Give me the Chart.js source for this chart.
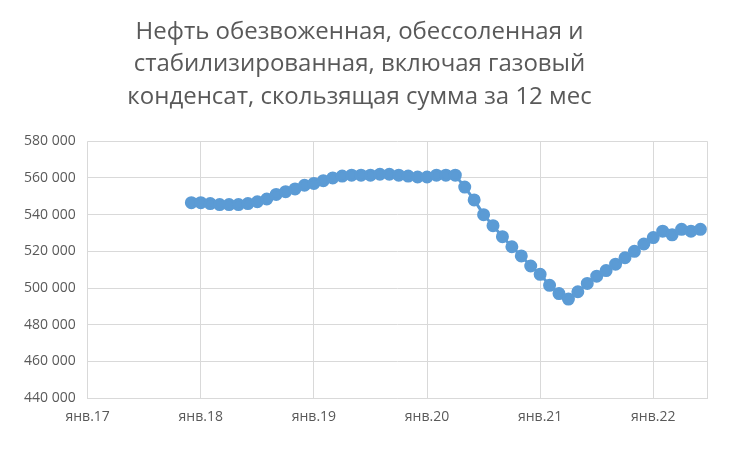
<!DOCTYPE html>
<html>
<head>
<meta charset="utf-8">
<script src="https://cdn.jsdelivr.net/npm/chart.js@4"></script>
<style>
  body { margin: 0; background: #fff; }
  #wrap { width: 752px; height: 451px; }
</style>
</head>
<body>
<div id="wrap"><canvas id="chart"></canvas></div>
<script>
const yearLabels = ["янв.17", "янв.18", "янв.19", "янв.20", "янв.21", "янв.22"];
// months counted from янв.17 = 0; series runs дек.17 .. июн.22
const firstMonth = 11;
const values = [
  546500, 546500, 546000, 545500, 545500, 545500, 546000, 547000, 548500, 551000,
  552500, 554000, 556000, 557000, 558500, 560000, 561000, 561500, 561500, 561500,
  562000, 562000, 561500, 561000, 560500, 560500, 561500, 561500, 561500, 555000,
  548000, 540000, 534000, 528000, 522500, 517500, 512000, 507500, 501500, 497000,
  494000, 498000, 502500, 506500, 509500, 513000, 516500, 520000, 524000, 527500,
  531000, 529000, 532000, 531000, 532000
];

const points = values.map((v, i) => ({ x: firstMonth + i, y: v }));
const fmt = v => String(v).replace(/\B(?=(\d{3})+(?!\d))/g, " ");

new Chart(document.getElementById("chart"), {
  type: "line",
  data: {
    datasets: [{
      data: points,
      borderColor: "#5b9bd5",
      backgroundColor: "#5b9bd5",
      borderWidth: 3,
      pointRadius: 5,
      pointHoverRadius: 5,
      tension: 0,
    }],
  },
  options: {
    responsive: true,
    maintainAspectRatio: false,
    animation: false,
    layout: { padding: { left: 12, right: 45, top: 12, bottom: 16 } },
    plugins: {
      legend: { display: false },
      tooltip: { enabled: false },
      title: {
        display: true,
        text: ["Нефть обезвоженная, обессоленная и", "стабилизированная, включая газовый", "конденсат, скользящая сумма за 12 мес"],
        color: "#595959",
        font: { family: "Open Sans", size: 24, weight: "normal", lineHeight: 1.35 },
        padding: { top: 4, bottom: 28 },
      },
    },
    scales: {
      x: {
        type: "linear",
        min: 0,
        max: 65.7,
        grid: { color: "#d9d9d9", drawTicks: false },
        border: { color: "#d9d9d9" },
        ticks: {
          stepSize: 12,
          color: "#595959",
          padding: 10,
          font: { family: "Open Sans", size: 14 },
          callback: v => yearLabels[v / 12] || "",
        },
      },
      y: {
        min: 440000,
        max: 580000,
        grid: { color: "#d9d9d9", drawTicks: false },
        border: { display: false },
        ticks: {
          stepSize: 20000,
          color: "#595959",
          padding: 12,
          font: { family: "Open Sans", size: 14 },
          callback: v => fmt(v),
        },
      },
    },
  },
});
</script>
</body>
</html>
